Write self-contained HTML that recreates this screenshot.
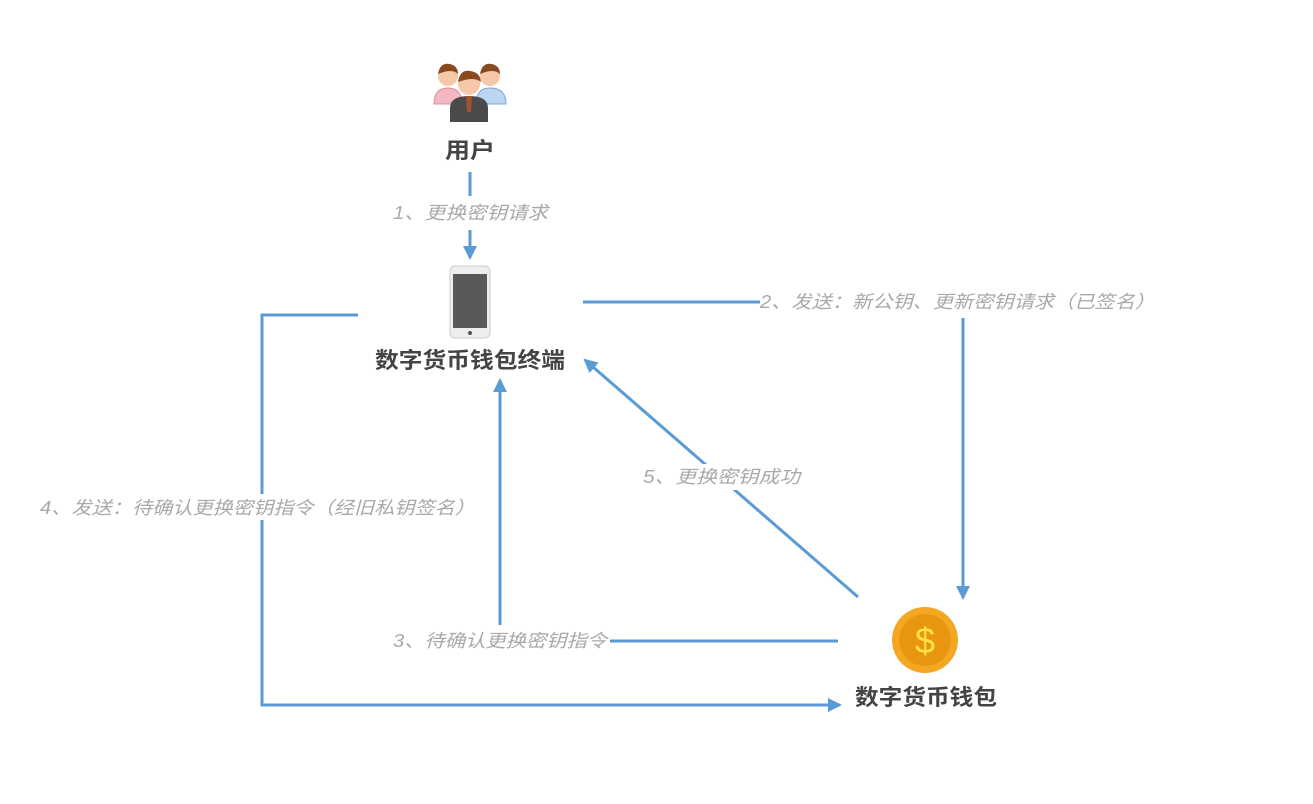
<!DOCTYPE html>
<html><head><meta charset="utf-8"><style>
html,body{margin:0;padding:0;background:#fff;}
svg{display:block}
.lb{font-family:"Liberation Sans","Noto Sans CJK SC",sans-serif;font-size:18px;fill:#a9a9a9;font-style:italic}
.nd{font-family:"Liberation Sans","Noto Sans CJK SC",sans-serif;font-size:22px;font-weight:bold;fill:#444}
</style></head><body>
<svg width="1313" height="804" viewBox="0 0 1313 804">
<defs>
<marker id="b" markerWidth="14" markerHeight="14" refX="12" refY="7" orient="auto" markerUnits="userSpaceOnUse"><path d="M0,0 L14,7 L0,14 Z" fill="#5b9bd5"/></marker></defs>
<g stroke="#5b9bd5" stroke-width="3" fill="none">
<line x1="470" y1="172" x2="470" y2="196"/>
<line x1="470" y1="230" x2="470" y2="258" marker-end="url(#b)"/>
<line x1="583" y1="302" x2="760" y2="302"/>
<line x1="963" y1="318" x2="963" y2="598" marker-end="url(#b)"/>
<polyline points="358,315 262,315 262,705 840,705" marker-end="url(#b)"/>
<line x1="838" y1="641" x2="610" y2="641"/>
<line x1="500" y1="625" x2="500" y2="380" marker-end="url(#b)"/>
<line x1="858" y1="597" x2="585" y2="360" marker-end="url(#b)"/>
</g>
<rect x="40" y="494" width="436" height="26" fill="#fff"/>
<rect x="643" y="464" width="158" height="26" fill="#fff"/>
<text class="lb" x="393" y="219" textLength="155" lengthAdjust="spacingAndGlyphs">1、更换密钥请求</text>
<text class="lb" x="760" y="308" textLength="395" lengthAdjust="spacingAndGlyphs">2、发送：新公钥、更新密钥请求（已签名）</text>
<text class="lb" x="40" y="514" textLength="435" lengthAdjust="spacingAndGlyphs">4、发送：待确认更换密钥指令（经旧私钥签名）</text>
<text class="lb" x="393" y="647" textLength="214" lengthAdjust="spacingAndGlyphs">3、待确认更换密钥指令</text>
<text class="lb" x="643" y="483" textLength="157" lengthAdjust="spacingAndGlyphs">5、更换密钥成功</text>
<g>
<circle cx="448" cy="76" r="10" fill="#f5c8a8"/><path d="M438,74 Q440,62 450,64 Q458,66 458,74 Q452,68 438,74Z" fill="#8a4a20"/>
<path d="M434,104 Q434,88 448,88 Q462,88 462,104Z" fill="#f4b8c0" stroke="#e090a0"/>
<circle cx="490" cy="76" r="10" fill="#f5c8a8"/><path d="M480,74 Q482,62 492,64 Q500,66 500,74 Q494,68 480,74Z" fill="#8a4a20"/>
<path d="M476,104 Q476,88 490,88 Q506,88 506,104Z" fill="#bcd6f2" stroke="#7aa8d8"/>
<circle cx="469" cy="84" r="11" fill="#f5c8a8"/><path d="M458,82 Q460,69 470,71 Q480,72 481,82 Q474,76 458,82Z" fill="#8a4a20"/>
<path d="M450,122 L450,108 Q450,96 469,96 Q488,96 488,108 L488,122Z" fill="#4a4a4a"/>
<path d="M466,96 L472,96 L471,112 L467,112Z" fill="#a0522d"/>
</g>
<text class="nd" x="470" y="158" text-anchor="middle" textLength="50" lengthAdjust="spacingAndGlyphs">用户</text>
<rect x="450" y="266" width="40" height="72" rx="5" fill="#eee" stroke="#ccc"/>
<rect x="453" y="274" width="34" height="54" fill="#595959"/>
<circle cx="470" cy="333" r="2" fill="#555"/>
<text class="nd" x="375" y="368" textLength="190" lengthAdjust="spacingAndGlyphs">数字货币钱包终端</text>
<circle cx="925" cy="640" r="33" fill="#f5a623"/>
<circle cx="925" cy="640" r="26" fill="#e8950f"/>
<text x="925" y="653" text-anchor="middle" font-family="Liberation Sans,sans-serif" font-size="36" fill="#ffe14d">$</text>
<text class="nd" x="855" y="705" textLength="142" lengthAdjust="spacingAndGlyphs">数字货币钱包</text>
</svg>
</body></html>
